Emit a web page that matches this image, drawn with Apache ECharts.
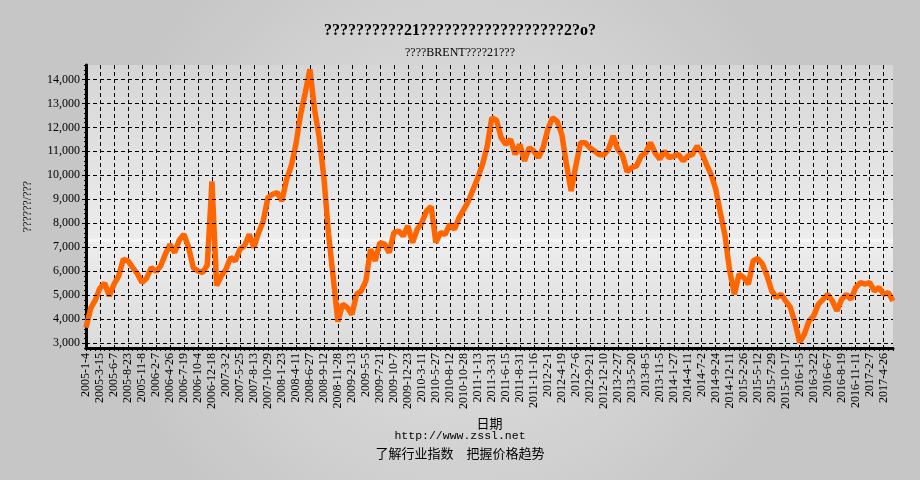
<!DOCTYPE html>
<html>
<head>
<meta charset="utf-8">
<title>BRENT</title>
<script src="https://cdn.jsdelivr.net/npm/echarts@6/dist/echarts.min.js"></script>
<style>
  html, body { margin: 0; padding: 0; }
  #main { width: 920px; height: 480px; }
</style>
</head>
<body>
<div id="main"></div>
<script>
// 横轴上标出的日期，每个日期之间有3个数据点
let dateLabels = [
  '2005-1-4', '2005-3-15', '2005-6-7', '2005-8-23', '2005-11-8', '2006-2-7', '2006-4-26', '2006-7-19',
  '2006-10-4', '2006-12-18', '2007-3-2', '2007-5-25', '2007-8-13', '2007-10-29', '2008-1-23', '2008-4-11',
  '2008-6-27', '2008-9-12', '2008-11-28', '2009-2-13', '2009-5-5', '2009-7-21', '2009-10-7', '2009-12-23',
  '2010-3-11', '2010-5-27', '2010-8-12', '2010-10-28', '2011-1-13', '2011-3-31', '2011-6-15', '2011-8-31',
  '2011-11-16', '2012-2-1', '2012-4-19', '2012-7-6', '2012-9-21', '2012-12-10', '2013-2-27', '2013-5-20',
  '2013-8-5', '2013-11-5', '2014-1-27', '2014-4-11', '2014-7-2', '2014-9-24', '2014-12-11', '2015-2-26',
  '2015-5-12', '2015-7-29', '2015-10-17', '2016-1-5', '2016-3-22', '2016-6-7', '2016-8-19', '2016-11-11',
  '2017-2-7', '2017-4-26'
]
let pointsPerLabel = 3

// 价格
let prices = [
  3650, 4450, 4800, 5300, 5500, 4970, 5460, 5800, 6500, 6430,
  6150, 5900, 5530, 5710, 6150, 5990, 6220, 6710, 7120, 6780,
  7300, 7540, 6990, 6150, 6010, 5940, 6260, 9750, 5400, 5800,
  6080, 6570, 6430, 6920, 7060, 7540, 6990, 7610, 8100, 9070,
  9210, 9280, 8930, 9830, 10390, 11290, 12540, 13440, 14420, 12750,
  11570, 9900, 7540, 5740, 3900, 4630, 4490, 4200, 5040, 5180,
  5600, 6920, 6430, 7190, 7130, 6780, 7610, 7680, 7470, 7890,
  7190, 7750, 8030, 8510, 8700, 7190, 7610, 7540, 7960, 7750,
  8240, 8580, 8930, 9420, 9900, 10460, 11200, 12400, 12300, 11570,
  11290, 11500, 10870, 11290, 10600, 11150, 11010, 10740, 11150, 11920,
  12400, 12260, 11710, 10460, 9350, 10390, 11360, 11360, 11150, 11010,
  10870, 10850, 11080, 11640, 11080, 10840, 10150, 10320, 10390, 10800,
  10940, 11360, 10940, 10670, 11010, 10740, 10800, 10870, 10600, 10800,
  10870, 11220, 10940, 10460, 10040, 9420, 8440, 7470, 6010, 5040,
  5880, 5740, 5460, 6430, 6530, 6300, 5800, 5180, 4900, 5040,
  4760, 4490, 3860, 3030, 3380, 3930, 4140, 4630, 4830, 5040,
  4760, 4350, 4830, 5040, 4830, 5320, 5530, 5460, 5530, 5180,
  5320, 5040, 5110, 4760
]

// 纵轴刻度
let yTicks = [3000, 4000, 5000, 6000, 7000, 8000, 9000, 10000, 11000, 12000, 13000, 14000]

let categories = prices.map((v, i) => (i % pointsPerLabel === 0 && dateLabels[i / pointsPerLabel]) ? dateLabels[i / pointsPerLabel] : '')

let dashed = {color: '#000', width: 1, type: [4, 3]}

let option = {
  animation: false,
  backgroundColor: {
    type: 'radial', x: 0.5, y: 0.5, r: 0.75,
    colorStops: [{offset: 0, color: '#e4e4e4'}, {offset: 1, color: '#c6c6c6'}]
  },
  title: [
    {
      text: '??????????21??????????????????2?o?',
      left: 'center', top: 18,
      textStyle: {fontFamily: 'Liberation Serif', fontSize: 16, fontWeight: 'bold', color: '#000'}
    },
    {
      text: '????BRENT????21???',
      left: 'center', top: 42,
      textStyle: {fontFamily: 'Liberation Serif', fontSize: 12, fontWeight: 'normal', color: '#000'}
    }
  ],
  graphic: [
    {type: 'text', left: 'center', top: 430, style: {text: 'http://www.zssl.net', font: '11.5px "Liberation Mono"', fill: '#000'}},
    {type: 'text', left: 'center', top: 447, style: {text: '了解行业指数　把握价格趋势', font: '13px "Noto Sans CJK SC"', fill: '#000'}}
  ],
  grid: {
    left: 86, right: 27, top: 65, bottom: 132,
    show: true, borderWidth: 0,
    backgroundColor: {
      type: 'linear', x: 0, y: 0, x2: 0, y2: 1,
      colorStops: [
        {offset: 0, color: '#d6d6d6'},
        {offset: 0.61, color: '#ececec'},
        {offset: 0.62, color: '#f8f8f8'},
        {offset: 0.63, color: '#ececec'},
        {offset: 1, color: '#dbdbdb'}
      ]
    }
  },
  xAxis: {
    type: 'category',
    data: categories,
    boundaryGap: false,
    name: '日期',
    nameLocation: 'middle',
    nameGap: 63,
    nameTextStyle: {fontFamily: 'Noto Sans CJK SC', fontSize: 13, color: '#000'},
    axisLine: {lineStyle: {color: '#000', width: 3}},
    axisTick: {interval: 0, length: 3, lineStyle: {color: '#000'}},
    axisLabel: {
      interval: (idx) => idx % pointsPerLabel === 0,
      rotate: 90, margin: 5,
      fontFamily: 'Liberation Serif', fontSize: 12, color: '#000'
    },
    splitLine: {show: true, interval: (idx) => idx % pointsPerLabel === 0, lineStyle: dashed}
  },
  yAxis: [
    {
      type: 'value',
      min: 2800, max: 14600,
      name: '??????/???',
      nameLocation: 'middle',
      nameGap: 52,
      nameTextStyle: {fontFamily: 'Liberation Serif', fontSize: 12, color: '#000'},
      axisLine: {show: true, lineStyle: {color: '#000', width: 3}},
      axisTick: {show: true, customValues: yTicks, length: 4, lineStyle: {color: '#000'}},
      axisLabel: {
        customValues: yTicks, margin: 6,
        formatter: (v) => v.toLocaleString('en-US'),
        fontFamily: 'Liberation Serif', fontSize: 12, color: '#000'
      },
      splitLine: {show: false}
    },
    {
      type: 'value',
      min: 2800, max: 14600, interval: 200,
      position: 'left',
      axisLine: {show: false},
      axisTick: {show: true, length: 2, lineStyle: {color: '#000'}},
      axisLabel: {show: false},
      splitLine: {show: false}
    }
  ],
  series: [
    {
      // 横向虚线网格
      type: 'line',
      data: [],
      z: 1,
      silent: true,
      markLine: {
        silent: true,
        symbol: 'none',
        label: {show: false},
        lineStyle: dashed,
        data: yTicks.map(v => ({yAxis: v}))
      }
    },
    {
      type: 'line',
      data: prices,
      z: 3,
      symbol: 'none',
      lineStyle: {color: '#ff6600', width: 5.5}
    }
  ]
}

let myChart = echarts.init(document.getElementById('main'))
myChart.setOption(option)
</script>
</body>
</html>
